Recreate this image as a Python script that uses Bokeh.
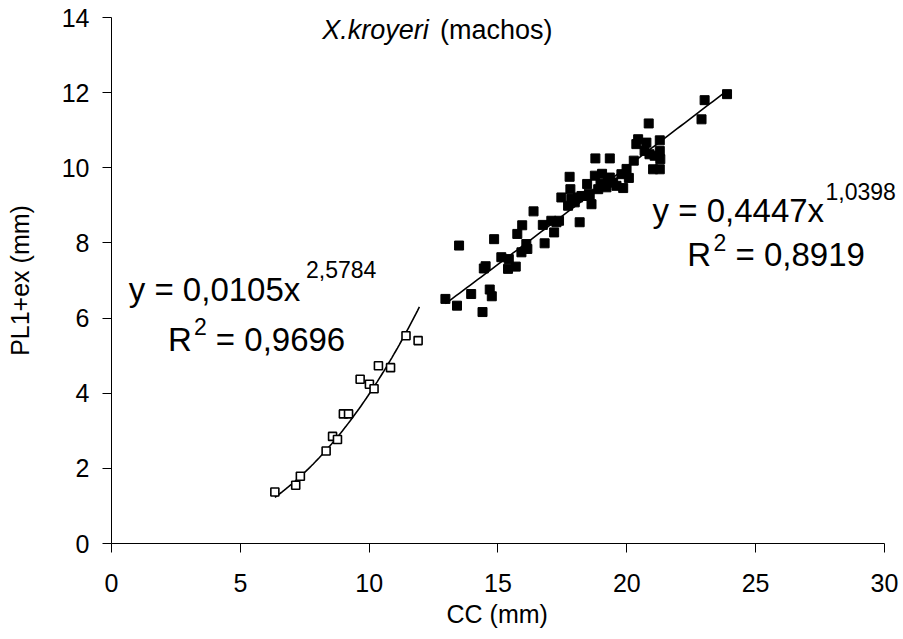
import numpy as np
from bokeh.plotting import figure
from bokeh.models import Range1d, FixedTicker, Label, Title
from bokeh.embed import file_html
from bokeh.resources import INLINE

# open squares (smaller individuals)
cc_small = [6.34, 7.15, 7.33, 8.33, 8.58, 8.77, 9.00, 9.20, 9.65, 10.01, 10.19, 10.36, 10.83, 11.43, 11.90]
pl_small = [1.37, 1.55, 1.79, 2.46, 2.85, 2.77, 3.45, 3.45, 4.37, 4.24, 4.12, 4.73, 4.68, 5.53, 5.40]

# filled squares (larger individuals)
cc_large = [12.96, 13.41, 13.49, 13.96, 14.40, 14.45, 14.52, 14.68, 14.76, 14.85, 15.13, 15.39, 15.42, 15.69,
            15.75, 15.94, 15.91, 16.10, 16.14, 16.38, 16.74, 16.81, 17.07, 17.18, 17.27, 17.37, 17.46, 17.72,
            17.78, 17.81, 17.85, 17.98, 18.11, 18.17, 18.24, 18.46, 18.53, 18.56, 18.63, 18.76, 18.78, 18.89,
            18.98, 19.04, 19.21, 19.26, 19.34, 19.34, 19.47, 19.60, 19.79, 19.86, 19.99, 20.08, 20.27, 20.37,
            20.44, 20.69, 20.76, 20.85, 20.88, 21.02, 21.08, 21.28, 21.28, 21.30, 21.28, 22.90, 23.02, 23.89]
pl_large = [6.51, 6.33, 7.93, 6.64, 6.16, 7.32, 7.38, 6.76, 6.58, 8.10, 7.62, 7.31, 7.57, 7.37,
            8.24, 8.47, 7.75, 7.97, 7.84, 8.84, 8.48, 7.99, 8.59, 8.28, 8.55, 8.59, 9.21, 8.99,
            9.76, 9.43, 9.17, 9.08, 9.21, 8.55, 9.25, 9.57, 9.31, 9.25, 9.03, 9.79, 10.25, 9.43,
            9.57, 9.84, 9.48, 9.61, 10.25, 9.74, 9.61, 9.52, 9.83, 9.46, 9.97, 9.73, 10.19, 10.63,
            10.76, 10.45, 10.67, 11.18, 10.36, 9.96, 10.32, 10.73, 10.45, 10.23, 9.96, 11.29, 11.80, 11.96]

# power trend lines y = a * x^b (coefficients shown on the chart)
a_small, b_small = 0.0105, 2.5784
a_large, b_large = 0.4447, 1.0398

x_ticks = [0, 5, 10, 15, 20, 25, 30]
y_ticks = [0, 2, 4, 6, 8, 10, 12, 14]

FONT = "Liberation Sans"

p = figure(width=903, height=639, x_range=Range1d(0, 30.70), y_range=Range1d(0, 14),
           output_backend="svg", toolbar_location=None,
           min_border_left=111, min_border_right=1, min_border_top=17, min_border_bottom=96)
p.outline_line_color = None
p.xgrid.grid_line_color = None
p.ygrid.grid_line_color = None
p.background_fill_color = "white"
p.border_fill_color = "white"

for ax in (p.xaxis[0], p.yaxis[0]):
    ax.axis_line_color = "black"
    ax.axis_line_width = 1
    ax.major_tick_line_color = "black"
    ax.major_tick_in = 0
    ax.major_tick_out = 9
    ax.minor_tick_line_color = None
    ax.major_label_text_font = FONT
    ax.major_label_text_font_size = "25px"
    ax.major_label_text_color = "black"
    ax.axis_label_text_font = FONT
    ax.axis_label_text_font_size = "25px"
    ax.axis_label_text_font_style = "normal"
    ax.axis_label_text_color = "black"

p.xaxis.bounds = (0, 30)
p.yaxis.bounds = (0, 14)
p.xaxis.ticker = FixedTicker(ticks=x_ticks)
p.yaxis.ticker = FixedTicker(ticks=y_ticks)
p.yaxis.axis_label = "PL1+ex (mm)"
p.xaxis.major_label_standoff = 21
p.yaxis.major_label_standoff = 13
p.yaxis.axis_label_standoff = 25

# x-axis title, centred on the 0..30 span rather than the whole frame
p.add_layout(Title(text="CC (mm)", align="left", offset=335, standoff=10,
                   vertical_align="top", text_font=FONT, text_font_size="25px",
                   text_font_style="normal", text_color="black"), "below")

# trend lines
xs_s = np.linspace(min(cc_small), max(cc_small) + 0.05, 80)
xs_l = np.linspace(min(cc_large), max(cc_large), 80)
p.line(xs_s, a_small * xs_s ** b_small, line_color="black", line_width=1.6)
p.line(xs_l, a_large * xs_l ** b_large, line_color="black", line_width=1.6)

# points
p.scatter(cc_large, pl_large, marker="square", size=9, fill_color="black", line_color="black", line_width=1)
p.scatter(cc_small, pl_small, marker="square", size=8, fill_color="white", line_color="black", line_width=1.6)

def lab(x, y, text, size, style="normal"):
    p.add_layout(Label(x=x, y=y, text=text, text_font=FONT, text_font_size=size,
                       text_font_style=style, text_color="black",
                       text_baseline="alphabetic", text_align="left"))

# title
lab(8.18, 13.68, "X.kroyeri", "27px", "italic")
lab(12.75, 13.68, "(machos)", "27px")

# left equation
lab(0.67, 6.76, "y = 0,0105x", "33px")
lab(7.55, 7.29, "2,5784", "23px")
lab(2.19, 5.43, "R", "33px")
lab(3.20, 5.77, "2", "23px")
lab(4.05, 5.43, "= 0,9696", "33px")

# right equation
lab(21.00, 8.87, "y = 0,4447x", "33px")
lab(27.71, 9.36, "1,0398", "23px")
lab(22.35, 7.68, "R", "33px")
lab(23.36, 8.00, "2", "23px")
lab(24.22, 7.68, "= 0,8919", "33px")

open("out.html", "w").write(file_html(p, INLINE))
